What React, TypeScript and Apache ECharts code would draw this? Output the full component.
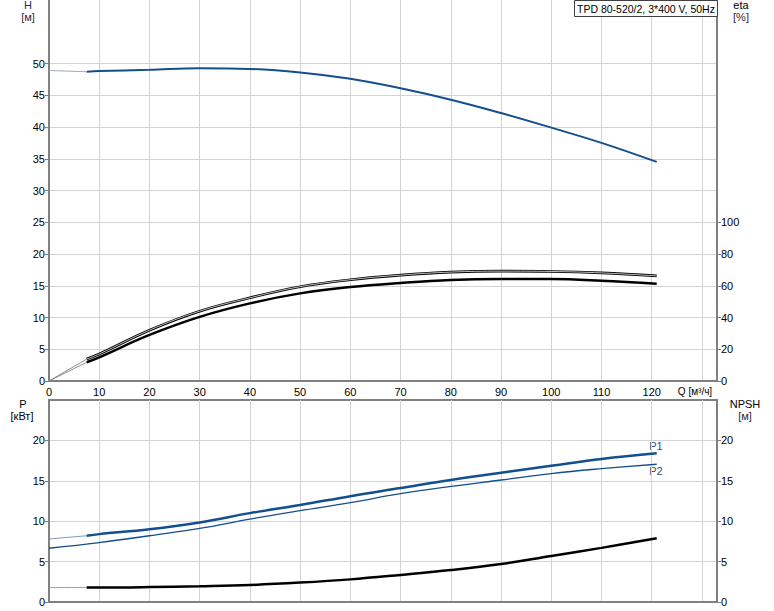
import React, { useEffect, useRef } from "react";
import * as echarts from "echarts";

// ---- data ----
const Q = [7.5, 10, 20, 30, 40, 50, 60, 70, 80, 90, 100, 110, 121];
const H = [48.7, 48.8, 49.0, 49.25, 49.15, 48.6, 47.6, 46.1, 44.3, 42.2, 39.9, 37.5, 34.5];
const ETA_UPPER = [13.8, 17, 32, 44, 52.4, 59.4, 63.8, 66.7, 68.6, 69.2, 69.0, 68.1, 66.2];
const ETA_LOWER = [11.8, 14.9, 29, 40.4, 48.9, 55.2, 59.2, 61.8, 63.7, 64.3, 64.2, 63.1, 61.2];
const P1 = [8.2, 8.4, 9.0, 9.85, 11.0, 12.0, 13.1, 14.1, 15.1, 16.0, 16.85, 17.7, 18.4];
const Q_P2 = [0, 10, 20, 30, 40, 50, 60, 70, 80, 90, 100, 110, 121];
const P2 = [6.65, 7.35, 8.2, 9.1, 10.25, 11.3, 12.3, 13.4, 14.3, 15.1, 15.9, 16.5, 17.05];
const NPSH = [1.8, 1.8, 1.85, 1.95, 2.1, 2.4, 2.8, 3.35, 3.95, 4.7, 5.7, 6.7, 7.9];

// extensions to Q = 0 (thin grey)
const Q_EXT = [0, 7.5];
const H_EXT = [48.9, 48.7];
const ETA_UPPER_EXT = [0, 13.8];
const ETA_LOWER_EXT = [0, 11.8];
const P1_EXT = [7.8, 8.2];
const NPSH_EXT = [1.8, 1.8];

// tick labels
const Q_TICKS = [0, 10, 20, 30, 40, 50, 60, 70, 80, 90, 100, 110, 120];
const H_TICKS = [0, 5, 10, 15, 20, 25, 30, 35, 40, 45, 50];
const ETA_TICKS = [0, 20, 40, 60, 80, 100];
const P_TICKS = [0, 5, 10, 15, 20];
const NPSH_TICKS = [0, 5, 10, 15, 20];

const TITLE = "TPD 80-520/2, 3*400 V, 50Hz";
const Q_NAME = "Q [м³/ч]";

const zip = (xs: number[], ys: number[]) => xs.map((x, i) => [x, ys[i]]);

const FONT = "'Liberation Sans', Arial, sans-serif";
const AXIS_GREY = "#808080";
const GRID_GREY = "#d3d3d3";
const BLUE = "#134f8c";

export default function App() {
  const ref = useRef<HTMLDivElement>(null);
  useEffect(() => {
    if (!ref.current) return;
    const chart = echarts.init(ref.current, undefined, { renderer: "svg" });

    const label = { color: "#000", fontSize: 11, fontFamily: FONT };
    const splitLine = { show: true, lineStyle: { color: GRID_GREY, width: 1 } };
    const axisLine = { show: true, onZero: false, lineStyle: { color: AXIS_GREY, width: 2 } };
    const tick = (vals: number[]) => ({
      show: true,
      length: 4,
      customValues: vals,
      lineStyle: { color: AXIS_GREY, width: 1 },
    });

    const line = (
      name: string,
      data: number[][],
      xi: number,
      yi: number,
      color: string,
      width: number,
      z = 3
    ) => ({
      type: "line",
      name,
      data,
      xAxisIndex: xi,
      yAxisIndex: yi,
      symbol: "none",
      silent: true,
      smooth: 0.4,
      z,
      lineStyle: { color, width },
    });

    const option: any = {
      animation: false,
      backgroundColor: "#fff",
      grid: [
        { left: 49, right: 57, top: 0, height: 381, containLabel: false },
        {
          left: 49,
          right: 57,
          top: 400,
          height: 202,
          containLabel: false,
          show: true,
          borderColor: AXIS_GREY,
          borderWidth: 2,
          backgroundColor: "transparent",
        },
      ],
      xAxis: [
        {
          type: "value",
          gridIndex: 0,
          min: 0,
          max: 133,
          interval: 10,
          axisLine,
          axisTick: { show: false },
          splitLine,
          axisLabel: { ...label, margin: 5, customValues: Q_TICKS },
        },
        {
          type: "value",
          gridIndex: 1,
          min: 0,
          max: 133,
          interval: 10,
          axisLine,
          axisTick: { show: false },
          splitLine,
          axisLabel: { show: false },
        },
      ],
      yAxis: [
        {
          type: "value",
          gridIndex: 0,
          position: "left",
          min: 0,
          max: 60,
          interval: 5,
          axisLine,
          axisTick: tick(H_TICKS),
          splitLine,
          axisLabel: { ...label, margin: 4, customValues: H_TICKS },
        },
        {
          type: "value",
          gridIndex: 0,
          position: "right",
          min: 0,
          max: 240,
          interval: 20,
          axisLine,
          axisTick: tick(ETA_TICKS),
          splitLine: { show: false },
          axisLabel: { ...label, margin: 4, customValues: ETA_TICKS },
        },
        {
          type: "value",
          gridIndex: 1,
          position: "left",
          min: 0,
          max: 25,
          interval: 5,
          axisLine,
          axisTick: tick(P_TICKS),
          splitLine,
          axisLabel: { ...label, margin: 4, customValues: P_TICKS },
        },
        {
          type: "value",
          gridIndex: 1,
          position: "right",
          min: 0,
          max: 25,
          interval: 5,
          axisLine,
          axisTick: tick(NPSH_TICKS),
          splitLine: { show: false },
          axisLabel: { ...label, margin: 4, customValues: NPSH_TICKS },
        },
      ],
      series: [
        line("H ext", zip(Q_EXT, H_EXT), 0, 0, "#9aa7b5", 1),
        line("H", zip(Q, H), 0, 0, BLUE, 2),
        line("eta1 ext", zip(Q_EXT, ETA_UPPER_EXT), 0, 1, "#8a8a8a", 1),
        line("eta2 ext", zip(Q_EXT, ETA_LOWER_EXT), 0, 1, "#8a8a8a", 1),
        line("eta1", zip(Q, ETA_UPPER), 0, 1, "#000", 2.6, 3),
        line("eta1 inner", zip(Q, ETA_UPPER), 0, 1, "#f0f0f0", 0.8, 4),
        line("eta2", zip(Q, ETA_LOWER), 0, 1, "#000", 2.5),
        line("P1 ext", zip(Q_EXT, P1_EXT), 1, 2, "#7f97b0", 1),
        line("P1", zip(Q, P1), 1, 2, BLUE, 2.5),
        line("P2", zip(Q_P2, P2), 1, 2, BLUE, 1.3),
        line("NPSH ext", zip(Q_EXT, NPSH_EXT), 1, 3, "#9a9a9a", 1),
        line("NPSH", zip(Q, NPSH), 1, 3, "#000", 2.5),
      ],
      graphic: [
        {
          type: "rect",
          shape: { x: 574.5, y: 0.5, width: 143, height: 16 },
          style: { fill: "#fff", stroke: "#404040", lineWidth: 1 },
          z: 100,
        },
        {
          type: "text",
          x: 577,
          y: 9,
          z: 101,
          style: { text: TITLE, fill: "#000", font: `10.5px ${FONT}`, align: "left", verticalAlign: "middle" },
        },
        { type: "text", x: 28, y: 5, style: { text: "H", fill: "#1a2a5a", font: `11px ${FONT}`, align: "center", verticalAlign: "middle" } },
        { type: "text", x: 28, y: 17, style: { text: "[м]", fill: "#3a1a3a", font: `11px ${FONT}`, align: "center", verticalAlign: "middle" } },
        { type: "text", x: 741, y: 5, style: { text: "eta", fill: "#000", font: `11px ${FONT}`, align: "center", verticalAlign: "middle" } },
        { type: "text", x: 741, y: 17, style: { text: "[%]", fill: "#3a1a3a", font: `11px ${FONT}`, align: "center", verticalAlign: "middle" } },
        { type: "text", x: 23, y: 404, style: { text: "P", fill: "#000", font: `11px ${FONT}`, align: "center", verticalAlign: "middle" } },
        { type: "text", x: 22, y: 416, style: { text: "[кВт]", fill: "#000", font: `11px ${FONT}`, align: "center", verticalAlign: "middle" } },
        { type: "text", x: 745, y: 404, style: { text: "NPSH", fill: "#000", font: `11px ${FONT}`, align: "center", verticalAlign: "middle" } },
        { type: "text", x: 745, y: 416, style: { text: "[м]", fill: "#3a1a3a", font: `11px ${FONT}`, align: "center", verticalAlign: "middle" } },
        { type: "text", x: 695, y: 391, style: { text: Q_NAME, fill: "#000", font: `10px ${FONT}`, align: "center", verticalAlign: "middle" } },
        { type: "text", x: 656, y: 446, style: { text: "P1", fill: "#1f4f80", font: `11px ${FONT}`, align: "center", verticalAlign: "middle" } },
        { type: "text", x: 656, y: 471, style: { text: "P2", fill: "#1f4f80", font: `11px ${FONT}`, align: "center", verticalAlign: "middle" } },
      ],
    };

    chart.setOption(option);
    return () => chart.dispose();
  }, []);

  return (
    <div
      ref={ref}
      style={{ position: "fixed", left: 0, top: 0, width: 774, height: 611, background: "#fff" }}
    />
  );
}
